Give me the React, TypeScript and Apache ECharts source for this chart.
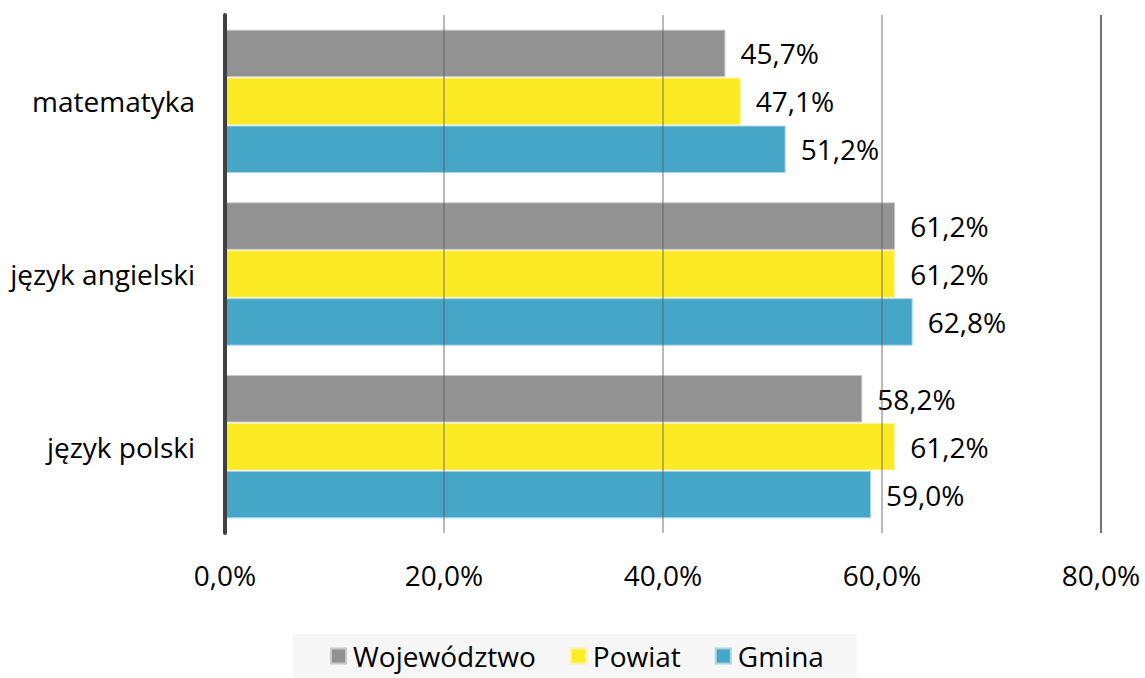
import React, { useEffect, useRef } from "react";
import * as echarts from "echarts";

const categories = ["język polski", "język angielski", "matematyka"];
const wojewodztwo = [58.2, 61.2, 45.7];
const powiat = [61.2, 61.2, 47.1];
const gmina = [59.0, 62.8, 51.2];
const xTicks = { min: 0, max: 80, interval: 20 };
const legendOrder = ["Województwo", "Powiat", "Gmina"];

const FONT = "'Open Sans', sans-serif";
const FS = 28;
const fmt = (v: number) => v.toFixed(1).replace(".", ",") + "%";

export default function App() {
  const ref = useRef<HTMLDivElement>(null);
  useEffect(() => {
    document.body.style.margin = "0";
    if (!ref.current) return;
    const chart = echarts.init(ref.current, undefined, { renderer: "svg" });
    const mk = (name: string, data: number[], color: string, border: string) => ({
      name,
      type: "bar",
      data,
      barCategoryGap: "17%",
      barGap: "1%",
      itemStyle: { color, borderColor: border, borderWidth: 1 },
      label: {
        show: true,
        position: "right",
        distance: 15,
        formatter: (p: any) => fmt(p.value),
        color: "#000",
        fontSize: FS,
        fontFamily: FONT,
      },
      z: 2,
    });
    chart.setOption({
      animation: false,
      backgroundColor: "#fff",
      textStyle: { fontFamily: FONT },
      grid: { left: 225, right: 44, top: 15, bottom: 145, containLabel: false },
      legend: {
        data: legendOrder,
        bottom: 0,
        left: 293,
        backgroundColor: "#f7f7f7",
        padding: [8, 33, 8, 37],
        itemWidth: 15,
        itemHeight: 15,
        itemGap: 34,
        icon: "rect",
        textStyle: { fontSize: FS, color: "#000", fontFamily: FONT, padding: [0, 0, 0, 2] },
      },
      xAxis: {
        type: "value",
        min: xTicks.min,
        max: xTicks.max,
        interval: xTicks.interval,
        z: 5,
        axisLine: { show: false },
        axisTick: { show: false },
        axisLabel: {
          formatter: (v: number) => fmt(v),
          fontSize: FS,
          color: "#000",
          fontFamily: FONT,
          margin: 28,
        },
        splitLine: {
          show: true,
          lineStyle: { color: ["#444", "rgba(90,90,90,0.55)", "rgba(90,90,90,0.55)", "rgba(90,90,90,0.55)", "#444"], width: 1.5 },
        },
      },
      yAxis: {
        type: "category",
        data: categories,
        z: 6,
        axisLine: { show: true, lineStyle: { color: "#404040", width: 4 } },
        axisTick: { show: false },
        axisLabel: { fontSize: FS, color: "#000", fontFamily: FONT, margin: 30 },
      },
      series: [
        mk("Województwo", wojewodztwo, "#929292", "#c9c9c9"),
        mk("Powiat", powiat, "#fbea24", "#fdf3a0"),
        mk("Gmina", gmina, "#46a6c8", "#a9d6e6"),
      ],
    });
    return () => chart.dispose();
  }, []);
  return <div ref={ref} style={{ width: 1145, height: 678 }} />;
}
